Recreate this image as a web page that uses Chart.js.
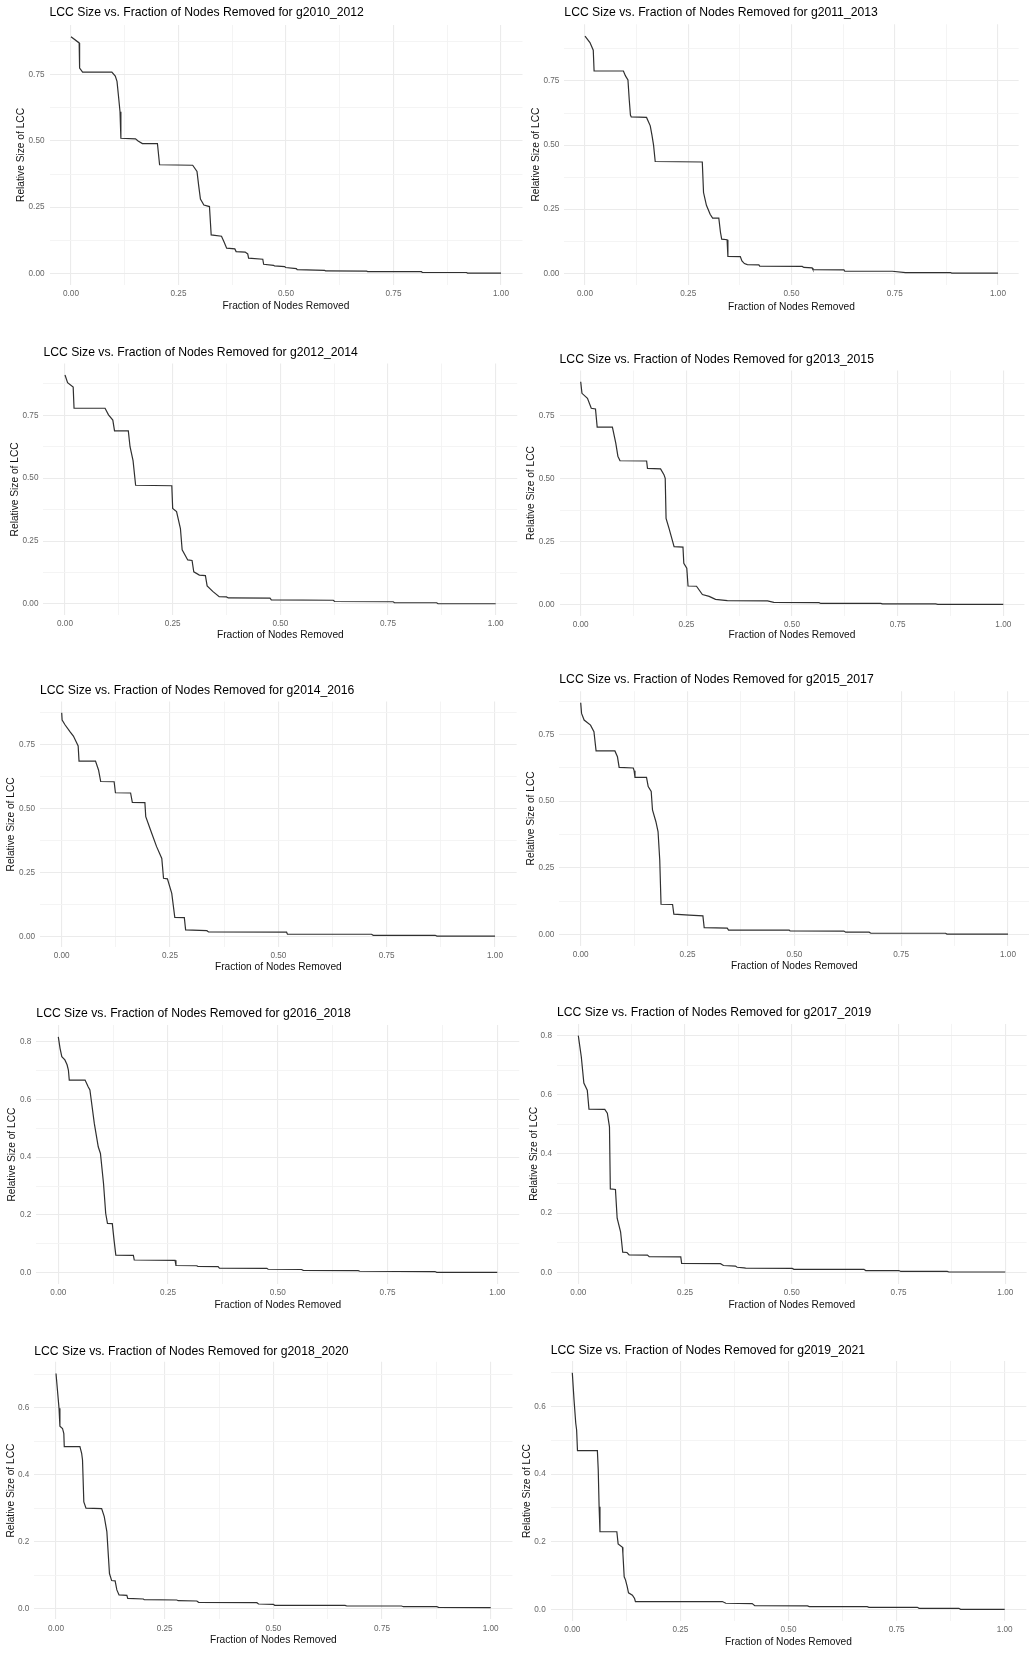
<!DOCTYPE html>
<html>
<head>
<meta charset="utf-8">
<title>LCC Size vs. Fraction of Nodes Removed</title>
<script src="https://cdn.jsdelivr.net/npm/chart.js@4.4.1/dist/chart.umd.min.js"></script>
<style>
  html, body { margin: 0; padding: 0; background: #ffffff; }
  #page { position: relative; width: 1029px; height: 1658px; overflow: hidden; background: #ffffff; }
  #page canvas { position: absolute; }
</style>
</head>
<body>
<div id="page"></div>
<script>
// ---- Data: [fraction of nodes removed, relative size of LCC] ----
const g2010_2012 = [[0,0.893],[0.019,0.870],[0.020,0.775],[0.027,0.760],[0.095,0.760],[0.103,0.745],[0.107,0.725],[0.111,0.660],[0.114,0.610],[0.116,0.510],[0.150,0.508],[0.156,0.500],[0.166,0.490],[0.201,0.490],[0.206,0.410],[0.283,0.408],[0.293,0.385],[0.297,0.330],[0.301,0.280],[0.309,0.258],[0.322,0.252],[0.326,0.145],[0.350,0.140],[0.356,0.118],[0.362,0.095],[0.381,0.092],[0.384,0.082],[0.405,0.080],[0.411,0.073],[0.413,0.057],[0.446,0.053],[0.448,0.034],[0.471,0.030],[0.473,0.028],[0.497,0.025],[0.499,0.022],[0.524,0.018],[0.526,0.014],[0.590,0.011],[0.592,0.009],[0.688,0.008],[0.690,0.006],[0.815,0.006],[0.817,0.003],[0.920,0.003],[0.922,0.001],[1.0,0.001]];
const g2011_2013 = [[0,0.925],[0.012,0.900],[0.020,0.870],[0.022,0.789],[0.093,0.789],[0.098,0.770],[0.104,0.754],[0.107,0.680],[0.110,0.617],[0.112,0.610],[0.149,0.608],[0.158,0.575],[0.162,0.540],[0.166,0.500],[0.170,0.436],[0.284,0.434],[0.287,0.315],[0.294,0.265],[0.303,0.230],[0.309,0.215],[0.324,0.215],[0.328,0.160],[0.331,0.133],[0.344,0.131],[0.346,0.066],[0.376,0.065],[0.380,0.048],[0.386,0.038],[0.393,0.034],[0.421,0.033],[0.423,0.028],[0.526,0.027],[0.530,0.023],[0.550,0.021],[0.552,0.014],[0.627,0.013],[0.629,0.008],[0.744,0.008],[0.776,0.003],[0.885,0.003],[0.888,0.001],[1.0,0.001]];
const g2012_2014 = [[0,0.910],[0.006,0.880],[0.019,0.862],[0.021,0.778],[0.093,0.778],[0.101,0.752],[0.111,0.731],[0.115,0.688],[0.147,0.688],[0.151,0.625],[0.158,0.570],[0.164,0.472],[0.248,0.470],[0.250,0.380],[0.259,0.367],[0.268,0.300],[0.272,0.215],[0.285,0.175],[0.295,0.173],[0.299,0.128],[0.312,0.115],[0.326,0.113],[0.330,0.072],[0.343,0.050],[0.358,0.029],[0.375,0.028],[0.379,0.024],[0.476,0.023],[0.479,0.016],[0.623,0.015],[0.626,0.010],[0.762,0.009],[0.765,0.005],[0.863,0.005],[0.866,0.001],[1.0,0.001]];
const g2013_2015 = [[0,0.883],[0.003,0.837],[0.016,0.817],[0.025,0.778],[0.035,0.775],[0.039,0.703],[0.075,0.703],[0.083,0.640],[0.088,0.588],[0.093,0.570],[0.156,0.569],[0.158,0.540],[0.189,0.538],[0.197,0.515],[0.200,0.500],[0.202,0.342],[0.209,0.302],[0.221,0.230],[0.242,0.228],[0.244,0.164],[0.251,0.145],[0.254,0.074],[0.274,0.073],[0.288,0.040],[0.304,0.033],[0.319,0.021],[0.347,0.016],[0.442,0.015],[0.457,0.009],[0.564,0.008],[0.568,0.005],[0.710,0.005],[0.714,0.003],[0.840,0.003],[0.845,0.001],[1.0,0.001]];
const g2014_2016 = [[0,0.875],[0.001,0.846],[0.008,0.827],[0.019,0.801],[0.027,0.784],[0.038,0.745],[0.040,0.686],[0.078,0.686],[0.085,0.651],[0.090,0.606],[0.121,0.605],[0.124,0.562],[0.159,0.561],[0.163,0.524],[0.192,0.523],[0.194,0.468],[0.205,0.416],[0.219,0.351],[0.231,0.305],[0.235,0.227],[0.244,0.225],[0.254,0.168],[0.261,0.074],[0.283,0.073],[0.286,0.025],[0.335,0.022],[0.339,0.017],[0.519,0.016],[0.521,0.008],[0.715,0.008],[0.719,0.004],[0.862,0.004],[0.866,0.001],[1.0,0.001]];
const g2015_2017 = [[0,0.870],[0.002,0.830],[0.008,0.805],[0.023,0.786],[0.031,0.761],[0.036,0.689],[0.080,0.689],[0.086,0.667],[0.090,0.627],[0.123,0.625],[0.125,0.615],[0.127,0.590],[0.154,0.590],[0.158,0.555],[0.165,0.537],[0.168,0.467],[0.176,0.423],[0.181,0.386],[0.185,0.279],[0.188,0.113],[0.215,0.112],[0.218,0.076],[0.254,0.072],[0.286,0.069],[0.289,0.025],[0.343,0.023],[0.346,0.016],[0.488,0.016],[0.490,0.013],[0.616,0.012],[0.620,0.008],[0.675,0.008],[0.679,0.004],[0.854,0.004],[0.857,0.001],[1.0,0.001]];
const g2016_2018 = [[0,0.817],[0.004,0.777],[0.008,0.748],[0.015,0.737],[0.020,0.720],[0.023,0.702],[0.025,0.667],[0.061,0.667],[0.068,0.644],[0.072,0.633],[0.082,0.517],[0.091,0.436],[0.096,0.413],[0.103,0.309],[0.108,0.205],[0.112,0.171],[0.123,0.170],[0.127,0.113],[0.131,0.061],[0.171,0.060],[0.173,0.044],[0.266,0.043],[0.268,0.025],[0.315,0.024],[0.318,0.022],[0.364,0.021],[0.367,0.016],[0.475,0.015],[0.478,0.012],[0.554,0.011],[0.558,0.008],[0.683,0.007],[0.687,0.005],[0.858,0.004],[0.862,0.001],[1.0,0.001]];
const g2017_2019 = [[0,0.800],[0.007,0.729],[0.013,0.640],[0.021,0.616],[0.025,0.552],[0.062,0.551],[0.068,0.538],[0.073,0.492],[0.075,0.282],[0.087,0.280],[0.091,0.183],[0.099,0.137],[0.104,0.068],[0.114,0.067],[0.119,0.059],[0.162,0.058],[0.166,0.053],[0.240,0.052],[0.242,0.030],[0.333,0.029],[0.340,0.023],[0.368,0.021],[0.372,0.017],[0.388,0.015],[0.392,0.014],[0.501,0.013],[0.505,0.010],[0.669,0.010],[0.673,0.006],[0.751,0.006],[0.755,0.003],[0.864,0.003],[0.868,0.001],[1.0,0.001]];
const g2018_2020 = [[0,0.702],[0.007,0.598],[0.009,0.545],[0.015,0.538],[0.018,0.523],[0.019,0.484],[0.055,0.484],[0.059,0.464],[0.061,0.444],[0.064,0.319],[0.069,0.300],[0.105,0.299],[0.111,0.275],[0.117,0.230],[0.123,0.105],[0.128,0.084],[0.136,0.083],[0.140,0.056],[0.145,0.041],[0.163,0.040],[0.165,0.031],[0.201,0.029],[0.203,0.027],[0.278,0.026],[0.281,0.024],[0.324,0.023],[0.328,0.019],[0.462,0.018],[0.466,0.014],[0.500,0.013],[0.503,0.010],[0.665,0.010],[0.669,0.008],[0.795,0.008],[0.799,0.006],[0.876,0.006],[0.880,0.004],[1.0,0.003]];
const g2019_2021 = [[0,0.699],[0.004,0.619],[0.008,0.550],[0.010,0.530],[0.012,0.469],[0.058,0.469],[0.060,0.412],[0.062,0.304],[0.064,0.230],[0.103,0.230],[0.106,0.194],[0.116,0.184],[0.117,0.166],[0.120,0.097],[0.123,0.088],[0.127,0.068],[0.130,0.050],[0.139,0.043],[0.144,0.033],[0.146,0.024],[0.347,0.024],[0.355,0.019],[0.416,0.018],[0.422,0.012],[0.544,0.011],[0.548,0.009],[0.682,0.009],[0.686,0.007],[0.798,0.007],[0.802,0.004],[0.894,0.004],[0.898,0.001],[1.0,0.001]];

const graphNames = ['g2010_2012','g2011_2013','g2012_2014','g2013_2015','g2014_2016','g2015_2017','g2016_2018','g2017_2019','g2018_2020','g2019_2021'];
const graphSeries = [g2010_2012, g2011_2013, g2012_2014, g2013_2015, g2014_2016, g2015_2017, g2016_2018, g2017_2019, g2018_2020, g2019_2021];

// ---- Tick values and labels (empty label = minor grid line) ----
const xTickValues = [0, 0.125, 0.25, 0.375, 0.5, 0.625, 0.75, 0.875, 1];
const xTickLabels = ['0.00', '', '0.25', '', '0.50', '', '0.75', '', '1.00'];
const yQuarterValues = [0, 0.125, 0.25, 0.375, 0.5, 0.625, 0.75, 0.875, 1];
const yQuarterLabels = ['0.00', '', '0.25', '', '0.50', '', '0.75', '', '1.00'];
const yTenthValues = [0, 0.1, 0.2, 0.3, 0.4, 0.5, 0.6, 0.7, 0.8, 0.9];
const yTenthLabels = ['0.0', '', '0.2', '', '0.4', '', '0.6', '', '0.8', ''];
const yTickSetOf = ['quarter','quarter','quarter','quarter','quarter','quarter','tenth','tenth','tenth','tenth'];

const titlePrefix = 'LCC Size vs. Fraction of Nodes Removed for ';
const xAxisTitle = 'Fraction of Nodes Removed';
const yAxisTitle = 'Relative Size of LCC';

// ---- Page layout of each panel (pixels on the page) ----
// x0/x1: pixel of x = 0 and x = 1; y0: pixel of y = 0; refPx: pixel of y = refVal
const frames = [
  {x0: 71.0,  x1: 501.0,  y0: 273.3,  refVal: 0.75, refPx: 74.7,   titleY: 12.7,   yTitleX: 20.7,  xTitleY: 305.7},
  {x0: 585.0, x1: 998.0,  y0: 273.3,  refVal: 0.75, refPx: 81.0,   titleY: 12.7,   yTitleX: 536.3, xTitleY: 306.7},
  {x0: 65.0,  x1: 495.7,  y0: 604.0,  refVal: 0.75, refPx: 415.3,  titleY: 352.3,  yTitleX: 15.0,  xTitleY: 635.0},
  {x0: 580.7, x1: 1003.3, y0: 604.7,  refVal: 0.75, refPx: 415.3,  titleY: 360.0,  yTitleX: 530.7, xTitleY: 635.3},
  {x0: 61.7,  x1: 495.0,  y0: 936.3,  refVal: 0.75, refPx: 744.7,  titleY: 690.7,  yTitleX: 11.0,  xTitleY: 967.0},
  {x0: 580.7, x1: 1008.0, y0: 934.3,  refVal: 0.75, refPx: 734.7,  titleY: 680.0,  yTitleX: 530.7, xTitleY: 966.0},
  {x0: 58.3,  x1: 497.3,  y0: 1272.7, refVal: 0.8,  refPx: 1041.7, titleY: 1013.3, yTitleX: 12.3,  xTitleY: 1305.0},
  {x0: 578.3, x1: 1005.3, y0: 1272.3, refVal: 0.8,  refPx: 1035.7, titleY: 1012.7, yTitleX: 534.0, xTitleY: 1305.0},
  {x0: 56.0,  x1: 490.7,  y0: 1608.7, refVal: 0.6,  refPx: 1407.7, titleY: 1351.7, yTitleX: 11.0,  xTitleY: 1640.0},
  {x0: 572.3, x1: 1004.7, y0: 1609.7, refVal: 0.6,  refPx: 1406.3, titleY: 1350.7, yTitleX: 526.7, xTitleY: 1641.7}
];

// ---- Styling ----
const FONT_FAMILY = '"Liberation Sans", Arial, Helvetica, sans-serif';
const TITLE_SIZE = 12.2;
const AXIS_TITLE_SIZE = 10.2;
const TICK_SIZE = 8.2;
const LINE_HEIGHT = 1.2;
const MAJOR_GRID = '#ebebeb';
const MINOR_GRID = '#f3f3f3';
const LINE_COLOR = '#303030';

function labelLookup(values, labels) {
  return function (v) {
    for (let i = 0; i < values.length; i++) {
      if (Math.abs(values[i] - v) < 1e-9) return labels[i];
    }
    return '';
  };
}

function tickHooks(values, labels) {
  const lookup = labelLookup(values, labels);
  return {
    afterBuildTicks(scale) {
      scale.ticks = values
        .filter(v => v >= scale.min - 1e-9 && v <= scale.max + 1e-9)
        .map(v => ({value: v}));
    },
    callback(value) { return lookup(value); },
    gridColor(ctx) { return (ctx.tick && lookup(ctx.tick.value) === '') ? MINOR_GRID : MAJOR_GRID; },
    gridWidth(ctx) { return (ctx.tick && lookup(ctx.tick.value) === '') ? 0.9 : 1.1; }
  };
}

const page = document.getElementById('page');

frames.forEach((f, i) => {
  const pts = graphSeries[i];
  const ys = pts.map(p => p[1]);
  const dMax = Math.max.apply(null, ys);
  const dMin = Math.min.apply(null, ys);
  const span = dMax - dMin;
  // 5% expansion on both axes
  const yMin = dMin - 0.05 * span;
  const yMax = dMax + 0.05 * span;
  const xMin = -0.05, xMax = 1.05;

  const pxPerX = f.x1 - f.x0;
  const pxPerY = (f.y0 - f.refPx) / f.refVal;
  const areaLeft = f.x0 + xMin * pxPerX;
  const areaRight = f.x0 + xMax * pxPerX;
  const areaTop = f.y0 - yMax * pxPerY;
  const areaBottom = f.y0 - yMin * pxPerY;

  const titleLH = TITLE_SIZE * LINE_HEIGHT;
  const axisLH = AXIS_TITLE_SIZE * LINE_HEIGHT;

  const canvasLeft = Math.floor(f.yTitleX - axisLH / 2 - 2);
  const canvasTop = Math.floor(f.titleY - titleLH / 2 - 2);
  const canvasBottom = Math.ceil(f.xTitleY + axisLH / 2 + 2);
  const canvasWidth = Math.ceil(areaRight - canvasLeft);
  const canvasHeight = canvasBottom - canvasTop;

  const yAxisWidth = areaLeft - canvasLeft;
  const xAxisHeight = canvasBottom - areaBottom;
  const titlePadTop = f.titleY - titleLH / 2 - canvasTop;
  const titlePadBottom = (areaTop - canvasTop) - titlePadTop - titleLH;
  const yTitlePad = f.yTitleX - canvasLeft - axisLH / 2;
  const xTitlePad = canvasBottom - axisLH / 2 - f.xTitleY;
  const rightPad = canvasWidth - (areaRight - canvasLeft);

  const canvas = document.createElement('canvas');
  canvas.width = canvasWidth;
  canvas.height = canvasHeight;
  canvas.style.left = canvasLeft + 'px';
  canvas.style.top = canvasTop + 'px';
  canvas.style.width = canvasWidth + 'px';
  canvas.style.height = canvasHeight + 'px';
  page.appendChild(canvas);

  const xHooks = tickHooks(xTickValues, xTickLabels);
  const yHooks = yTickSetOf[i] === 'quarter'
    ? tickHooks(yQuarterValues, yQuarterLabels)
    : tickHooks(yTenthValues, yTenthLabels);

  new Chart(canvas, {
    type: 'line',
    data: {
      datasets: [{
        label: graphNames[i],
        data: pts.map(p => ({x: p[0], y: p[1]})),
        borderColor: LINE_COLOR,
        borderWidth: 1.2,
        pointRadius: 0,
        pointHoverRadius: 0,
        tension: 0,
        fill: false
      }]
    },
    options: {
      responsive: false,
      devicePixelRatio: 1,
      animation: false,
      events: [],
      layout: {padding: {left: 0, top: 0, bottom: 0, right: rightPad}},
      plugins: {
        legend: {display: false},
        tooltip: {enabled: false},
        title: {
          display: true,
          text: titlePrefix + graphNames[i],
          align: 'start',
          fullSize: false,
          color: '#000000',
          font: {family: FONT_FAMILY, size: TITLE_SIZE, weight: 'normal', lineHeight: LINE_HEIGHT},
          padding: {top: titlePadTop, bottom: titlePadBottom}
        }
      },
      scales: {
        x: {
          type: 'linear',
          min: xMin,
          max: xMax,
          afterBuildTicks: xHooks.afterBuildTicks,
          afterFit(scale) { scale.height = xAxisHeight; },
          ticks: {
            autoSkip: false,
            maxRotation: 0,
            minRotation: 0,
            padding: 4,
            color: '#666666',
            font: {family: FONT_FAMILY, size: TICK_SIZE},
            callback: xHooks.callback
          },
          grid: {color: xHooks.gridColor, lineWidth: xHooks.gridWidth, drawTicks: false},
          border: {display: false},
          title: {
            display: true,
            text: xAxisTitle,
            color: '#111111',
            font: {family: FONT_FAMILY, size: AXIS_TITLE_SIZE},
            padding: {top: 0, bottom: xTitlePad}
          }
        },
        y: {
          type: 'linear',
          min: yMin,
          max: yMax,
          afterBuildTicks: yHooks.afterBuildTicks,
          afterFit(scale) { scale.width = yAxisWidth; },
          ticks: {
            autoSkip: false,
            padding: 5,
            color: '#666666',
            font: {family: FONT_FAMILY, size: TICK_SIZE},
            callback: yHooks.callback
          },
          grid: {color: yHooks.gridColor, lineWidth: yHooks.gridWidth, drawTicks: false},
          border: {display: false},
          title: {
            display: true,
            text: yAxisTitle,
            color: '#111111',
            font: {family: FONT_FAMILY, size: AXIS_TITLE_SIZE},
            padding: {top: yTitlePad, bottom: 0}
          }
        }
      }
    }
  });
});
</script>
</body>
</html>
